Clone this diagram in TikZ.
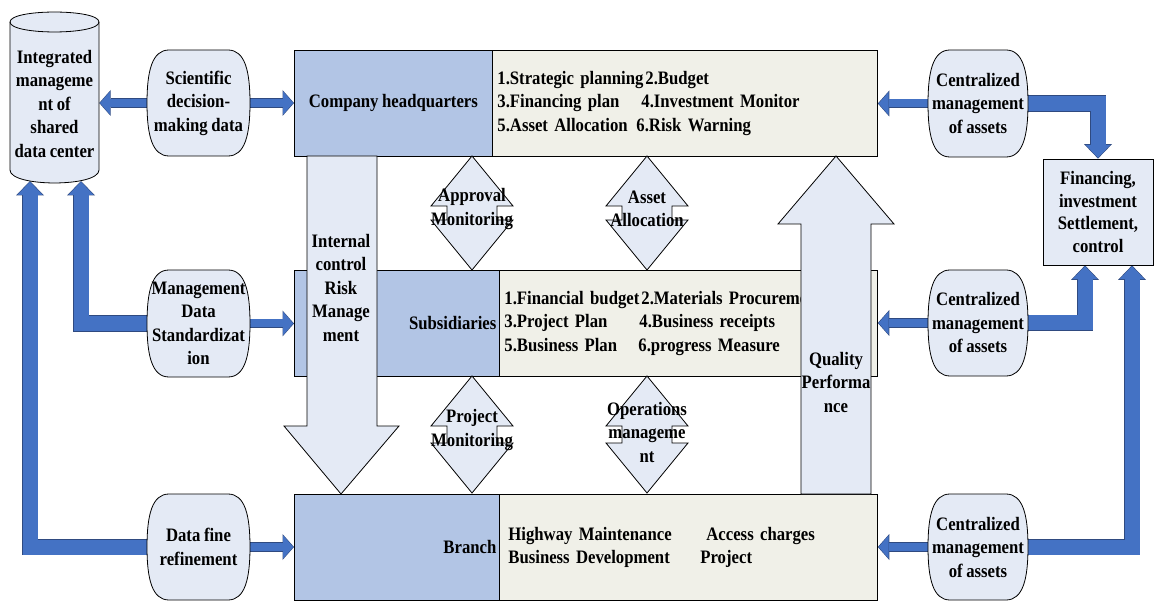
\documentclass[tikz,border=0pt]{standalone}
\usepackage{fontspec}
\setmainfont{Liberation Serif}[FakeStretch=0.88]
\usetikzlibrary{arrows.meta,calc}
\pgfdeclarelayer{bg}
\pgfsetlayers{bg,main}
\definecolor{ablue}{HTML}{4472C4}
\definecolor{aedge}{HTML}{2F4A80}
\definecolor{lfill}{HTML}{E4EAF5}
\definecolor{bleft}{HTML}{B2C5E5}
\definecolor{bright}{HTML}{F0F0E8}
\newcommand\blobnode[6]{%
  \path[blobst] (#2+22,#3) -- ++(#4-44,0)
    .. controls +(17,0) and +(0,-0.3*#5) .. ++(22,0.5*#5)
    .. controls +(0,0.3*#5) and +(17,0) .. ++(-22,0.5*#5)
    -- ++(-#4+44,0)
    .. controls +(-17,0) and +(0,0.3*#5) .. ++(-22,-0.5*#5)
    .. controls +(0,-0.3*#5) and +(-17,0) .. (#2+22,#3) -- cycle;
  \node[inner sep=0pt, minimum width=#4pt, minimum height=#5pt, align=center] (#1) at (#2+#4/2,#3+#5/2) {#6};%
}
\newcommand\udarrow[3]{%
  \path[bigarr] (#1,#2) -- (#1+41,#2+50) -- (#1+25,#2+50) -- (#1+25,#3-50) -- (#1+41,#3-50) -- (#1,#3)
    -- (#1-41,#3-50) -- (#1-25,#3-50) -- (#1-25,#2+50) -- (#1-41,#2+50) -- cycle;%
}
\newcommand\diagfont{\fontsize{19}{23.5}\selectfont\bfseries\fontdimen2\font=3.6pt\fontdimen3\font=0pt\fontdimen4\font=0pt\relax}
\newcommand\finfont{\fontsize{19}{22.5}\selectfont\bfseries\fontdimen2\font=3.6pt\fontdimen3\font=0pt\fontdimen4\font=0pt\relax}
\begin{document}
\begin{tikzpicture}[x=1pt,y=-1pt,
  font=\diagfont,
  outl/.style={draw=black, line width=0.8pt},
  blobst/.style={fill=lfill, outl},
  bigarr/.style={fill=lfill, outl, line join=miter},
  boxL/.style={outl, fill=bleft, inner sep=0pt, anchor=north west, minimum height=106pt},
  boxR/.style={outl, fill=bright, inner sep=0pt, anchor=north west, minimum height=106pt, align=left},
  txt/.style={inner sep=0pt, align=center},
  barrow/.style={draw=ablue, line width=8pt, shorten >=0.8pt,
    -{Triangle[length=10pt,width=23pt,line width=0pt]},
    preaction={draw=aedge, line width=9.4pt, shorten >=0pt,
      -{Triangle[length=11.5pt,width=26pt,line width=0pt]}}},
  earrow/.style={draw=ablue, line width=15pt, shorten >=0.8pt, line join=miter,
    -{Triangle[length=13pt,width=25pt,line width=0pt]},
    preaction={draw=aedge, line width=16.4pt, shorten >=0pt, line join=miter,
      -{Triangle[length=14.5pt,width=28pt,line width=0pt]}}}
]
\useasboundingbox (0,0) rectangle (1156,601);

% cylinder: shared data center
\path[fill=lfill, outl] (10,22) -- (10,170) .. controls (10,187.3) and (99,187.3) .. (99,170)
  -- (99,22) .. controls (99,8.7) and (10,8.7) .. (10,22) -- cycle;
\draw[outl] (10,22) .. controls (10,35.3) and (99,35.3) .. (99,22);
\node[txt, minimum width=89pt, minimum height=150pt] (cyl) at (54.5,104)
  {Integrated\\manageme\\nt of\\shared\\data center};

% main boxes
\node[boxL, minimum width=198pt] (hqL) at (294,50) {Company headquarters};
\node[boxR, minimum width=385pt, text width=375pt] (hqR) at (492,50)
  {\makebox[148pt][l]{1.Strategic planning}2.Budget\\
   \makebox[144pt][l]{3.Financing plan}4.Investment Monitor\\
   \makebox[139pt][l]{5.Asset Allocation}6.Risk Warning};
\node[boxL, minimum width=205pt, text width=199pt, align=right] (subL) at (294,270) {Subsidiaries};
\node[boxR, minimum width=378pt, text width=368pt] (subR) at (499,270)
  {\makebox[137pt][l]{1.Financial budget}2.Materials Procureme\\
   \makebox[135pt][l]{3.Project Plan}4.Business receipts\\
   \makebox[134pt][l]{5.Business Plan}6.progress Measure};
\node[boxL, minimum width=205pt, text width=199pt, align=right] (brL) at (294,494) {Branch};
\node[boxR, minimum width=378pt, text width=360pt] (brR) at (499,494)
  {\makebox[198pt][l]{Highway Maintenance}Access charges\\
   \makebox[192pt][l]{Business Development}Project};

% financing box
\node[outl, fill=lfill, inner sep=0pt, minimum width=110pt, minimum height=106pt, align=center,
  font=\finfont] (fin) at (1098,212)
  {Financing,\\investment\\Settlement,\\control};

% rounded data shapes
\blobnode{sdm}{147}{50}{103}{106}{Scientific\\decision-\\making data}
\blobnode{mds}{147}{270}{103}{107}{Management\\Data\\Standardizat\\ion}
\blobnode{dfr}{147}{494}{103}{106}{Data fine\\refinement}
\blobnode{cma1}{928}{50}{100}{107}{Centralized\\management\\of assets}
\blobnode{cma2}{928}{270}{100}{106}{Centralized\\management\\of assets}
\blobnode{cma3}{928}{494}{100}{106}{Centralized\\management\\of assets}

% large light arrows
\path[bigarr] (307,156) -- (377,156) -- (377,426) -- (399,426) -- (341,494) -- (284,426) -- (307,426) -- cycle;
\path[bigarr] (836,156) -- (894,224) -- (871,224) -- (871,494) -- (801,494) -- (801,224) -- (778,224) -- cycle;
\udarrow{472}{156}{270}
\udarrow{647}{156}{270}
\udarrow{472}{376}{493}
\udarrow{647}{376}{493}

\node[txt] (icT) at (341,288) {Internal\\control\\Risk\\Manage\\ment};
\node[txt] (qpT) at (836,382) {Quality\\Performa\\nce};
\node[txt] (apT) at (472,209) {Approval\\Monitoring};
\node[txt] (aaT) at (647,209) {Asset\\Allocation};
\node[txt] (pmT) at (472,430) {Project\\Monitoring};
\node[txt] (omT) at (647,432) {Operations\\manageme\\nt};

% blue connectors
\coordinate (cb1) at (81,181);
\coordinate (cb2) at (30,181);
\begin{pgfonlayer}{bg}
\draw[barrow] (sdm.west) -- (sdm.west -| cyl.east);
\draw[barrow] (sdm.east) -- (sdm.east -| hqL.west);
\draw[barrow] (mds.east) -- (mds.east -| subL.west);
\draw[barrow] (dfr.east) -- (dfr.east -| brL.west);
\draw[barrow] (cma1.west) -- (cma1.west -| hqR.east);
\draw[barrow] (cma2.west) -- (cma2.west -| subR.east);
\draw[barrow] (cma3.west) -- (cma3.west -| brR.east);
\draw[earrow] (mds.west) -| (cb1);
\draw[earrow] (dfr.west) -| (cb2);
\draw[earrow] (cma1.east) -| (fin.north);
\draw[earrow] (cma2.east) -| ($(fin.south)+(-13,0)$);
\draw[earrow] (cma3.east) -| ($(fin.south)+(34,0)$);
\end{pgfonlayer}
\end{tikzpicture}
\end{document}
